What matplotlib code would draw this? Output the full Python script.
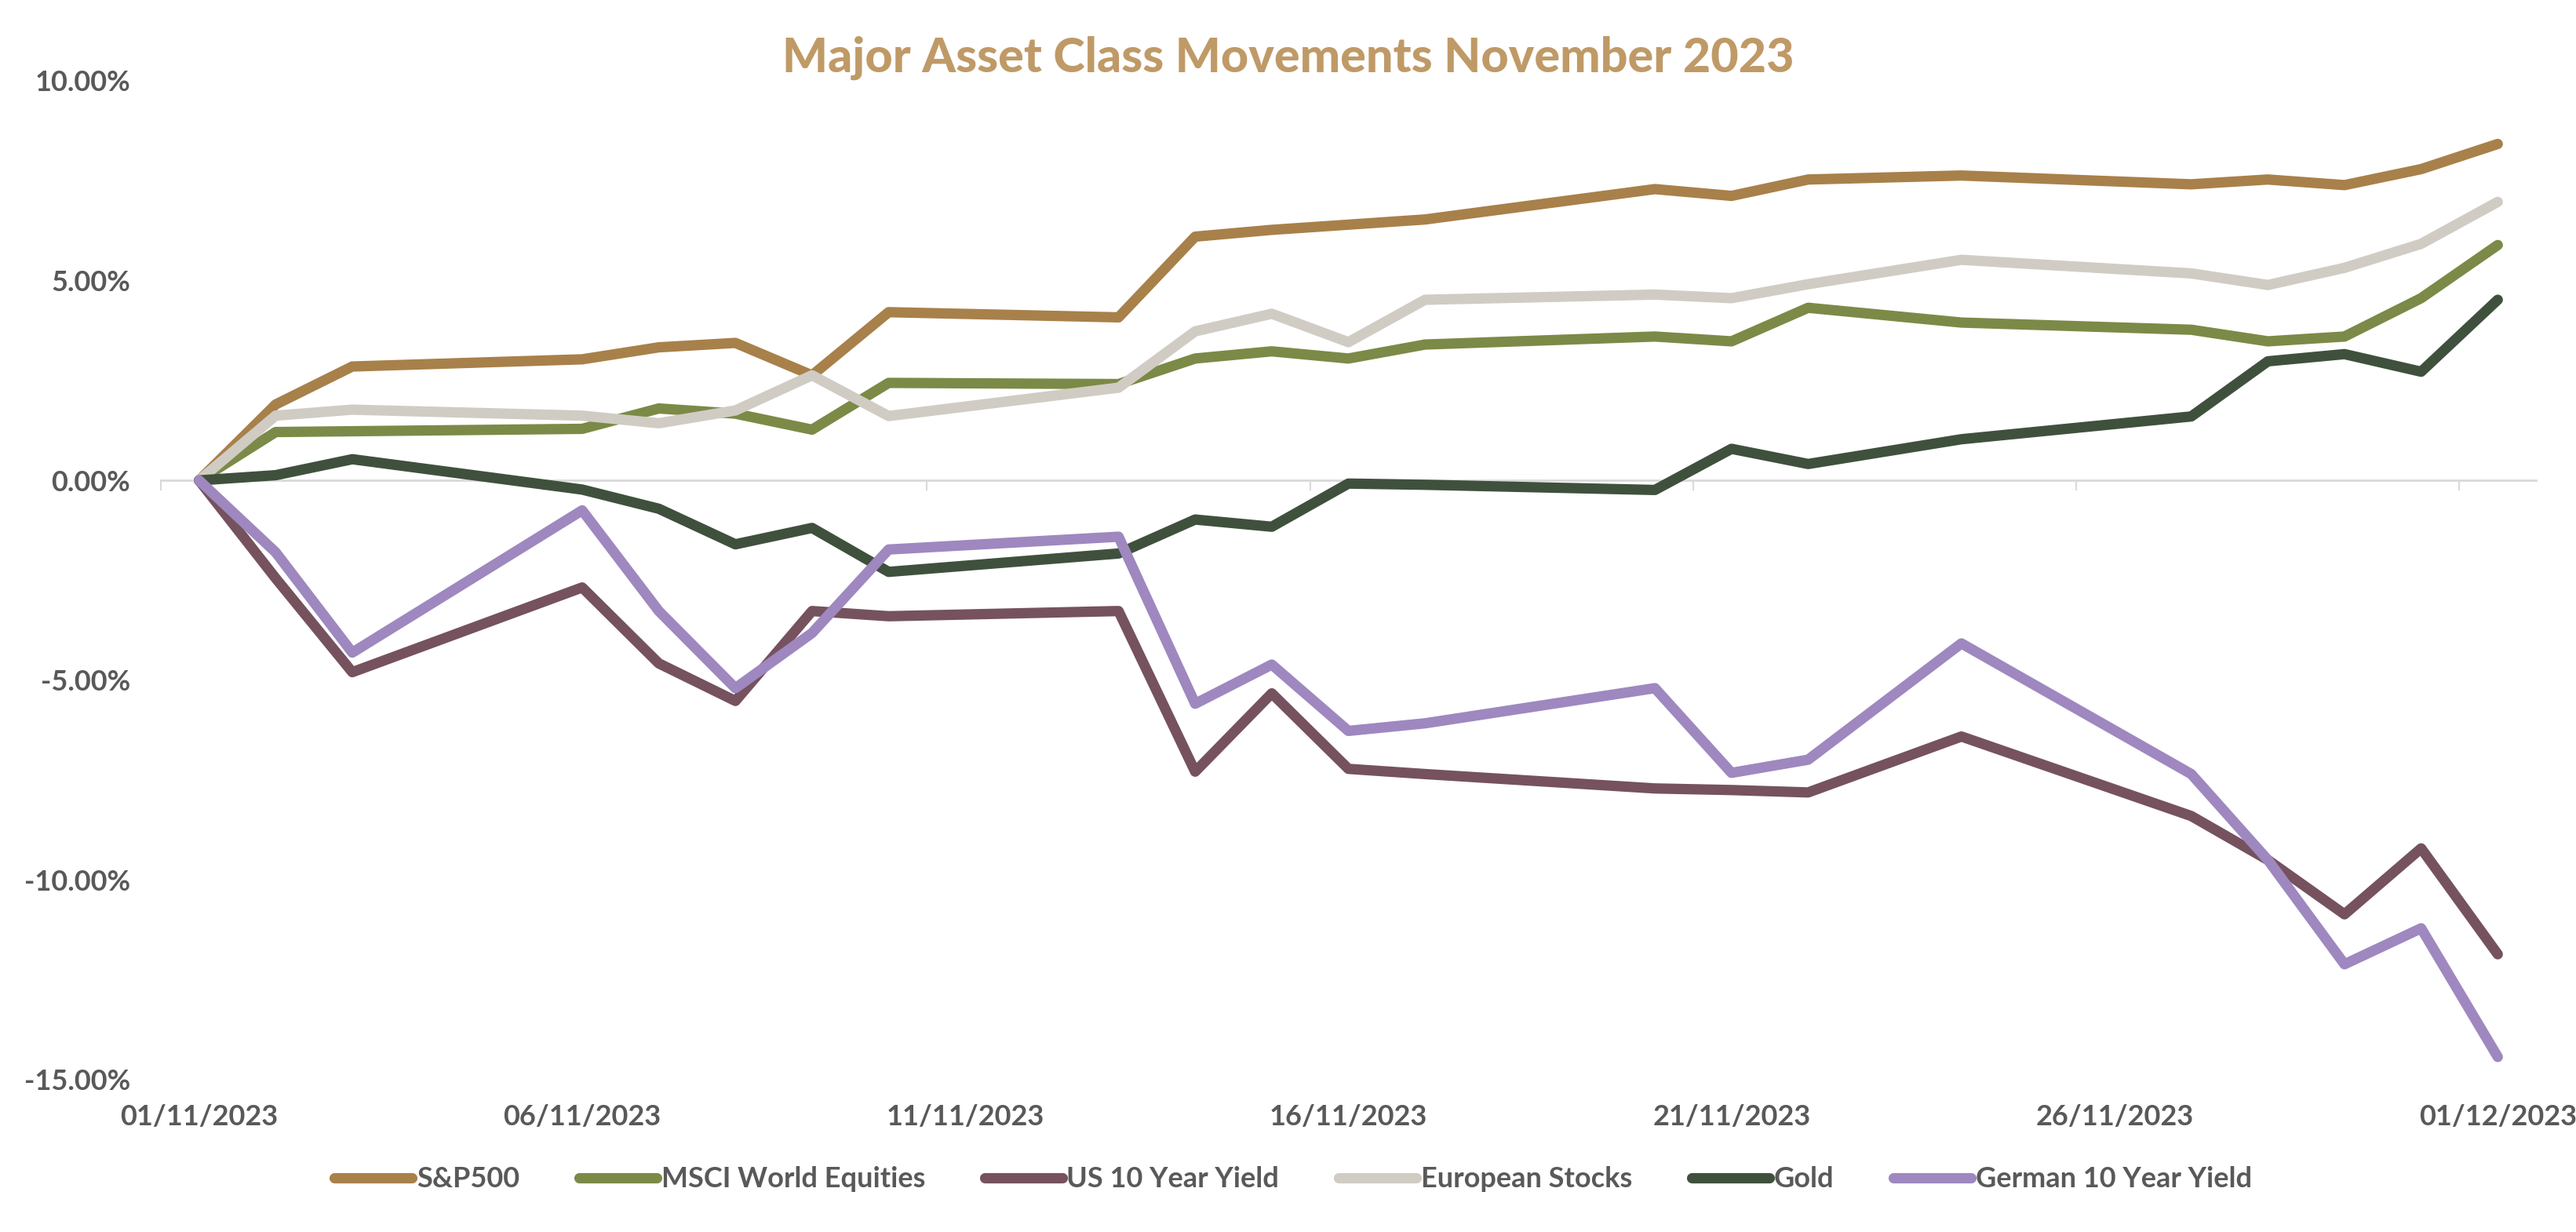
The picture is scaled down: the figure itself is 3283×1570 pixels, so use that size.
import matplotlib.pyplot as plt
import matplotlib.ticker as mticker
import pandas as pd

# trading days shown on the chart (dd/mm/yyyy)
dates = ['01/11/2023', '02/11/2023', '03/11/2023', '06/11/2023', '07/11/2023',
         '08/11/2023', '09/11/2023', '10/11/2023', '13/11/2023', '14/11/2023',
         '15/11/2023', '16/11/2023', '17/11/2023', '20/11/2023', '21/11/2023',
         '22/11/2023', '24/11/2023', '27/11/2023', '28/11/2023', '29/11/2023',
         '30/11/2023', '01/12/2023']

# cumulative moves in %
sp500 = [0.00, 1.90, 2.85, 3.03, 3.33, 3.44, 2.63, 4.21, 4.08, 6.10, 6.27,
         6.40, 6.53, 7.29, 7.12, 7.53, 7.63, 7.41, 7.53, 7.39, 7.79, 8.42]
msci_world = [0.00, 1.21, 1.23, 1.29, 1.80, 1.67, 1.27, 2.44, 2.41, 3.05, 3.23,
              3.05, 3.40, 3.60, 3.48, 4.32, 3.95, 3.77, 3.48, 3.60, 4.56, 5.89]
us_10y = [0.00, -2.45, -4.80, -2.68, -4.58, -5.52, -3.27, -3.40, -3.27, -7.29, -5.33,
          -7.22, -7.35, -7.71, -7.75, -7.81, -6.41, -8.40, -9.50, -10.86, -9.21, -11.86]
european = [0.00, 1.62, 1.77, 1.62, 1.43, 1.75, 2.63, 1.61, 2.32, 3.73, 4.17,
            3.46, 4.52, 4.65, 4.56, 4.91, 5.52, 5.18, 4.89, 5.32, 5.92, 6.97]
gold = [0.00, 0.13, 0.53, -0.23, -0.71, -1.60, -1.19, -2.29, -1.83, -0.98, -1.16,
        -0.08, -0.11, -0.24, 0.79, 0.41, 1.03, 1.60, 2.98, 3.16, 2.72, 4.52]
german_10y = [0.00, -1.80, -4.31, -0.75, -3.27, -5.20, -3.82, -1.73, -1.41, -5.59, -4.61,
              -6.27, -6.08, -5.20, -7.32, -6.99, -4.08, -7.35, -9.50, -12.11, -11.21, -14.43]

series = [
    ('S&P500', sp500, '#A8804A'),
    ('MSCI World Equities', msci_world, '#7B8A47'),
    ('US 10 Year Yield', us_10y, '#75525E'),
    ('European Stocks', european, '#D0CCC4'),
    ('Gold', gold, '#3F513D'),
    ('German 10 Year Yield', german_10y, '#9E88BF'),
]

plt.rcParams['font.family'] = ['Lato', 'DejaVu Sans']
plt.rcParams['font.weight'] = 'bold'
text_grey = '#595959'

start = pd.Timestamp('2023-11-01')
end = pd.Timestamp('2023-12-01')
x = (pd.to_datetime(dates, dayfirst=True) - start).days
label_days = pd.date_range(start, end, freq='5D')
label_pos = (label_days - start).days
n_days = (end - start).days

fig = plt.figure(figsize=(32.83, 15.70), dpi=100)
ax = fig.add_axes([0.0624, 0.1236, 0.9221, 0.8108])

for name, values, color in series:
    ax.plot(x, values, color=color, lw=9.5, label=name,
            solid_capstyle='round', solid_joinstyle='round')

ax.set_xlim(-0.5, n_days + 0.5)
ax.set_ylim(-15, 10)
ax.yaxis.set_major_locator(mticker.MultipleLocator(5))
ax.yaxis.set_major_formatter(mticker.FuncFormatter(lambda v, p: f'{v:.2f}%'))
ax.tick_params(axis='y', length=0, pad=28, labelsize=26, labelcolor=text_grey)

for side in ['top', 'right', 'left']:
    ax.spines[side].set_visible(False)
ax.spines['bottom'].set_position(('data', 0))
ax.spines['bottom'].set_color('#D9D9D9')
ax.spines['bottom'].set_linewidth(2)
ax.spines['bottom'].set_zorder(0)

ax.set_xticks([])
ax.set_xticks([p - 0.5 for p in label_pos[:-1]] + [n_days - 0.5], minor=True)
ax.tick_params(axis='x', which='minor', direction='out', length=9, width=1.5,
               color='#D9D9D9', labelbottom=False)

sec = ax.secondary_xaxis('bottom')
sec.set_xticks(label_pos, [d.strftime('%d/%m/%Y') for d in label_days])
sec.spines['bottom'].set_visible(False)
sec.tick_params(length=0, pad=22, labelsize=26, labelcolor=text_grey)

fig.text(0.5, 0.953, 'Major Asset Class Movements November 2023',
         ha='center', va='center', fontsize=44, fontweight='black', color='#BF9A67')

leg = fig.legend(loc='center', bbox_to_anchor=(0.502, 0.0427), ncol=6, frameon=False,
                 fontsize=26, handlelength=2.75, handletextpad=0.15, columnspacing=2.1)
for t in leg.get_texts():
    t.set_color(text_grey)

fig.savefig('out.png', dpi=100)
